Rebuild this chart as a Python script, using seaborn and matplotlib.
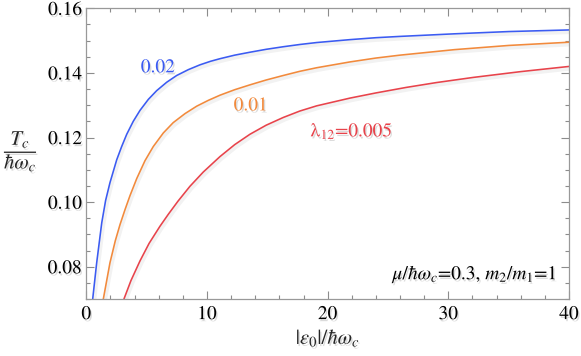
import numpy as np
import pandas as pd
import seaborn as sns
import matplotlib
matplotlib.use('Agg')
import matplotlib.pyplot as plt
from matplotlib import patheffects as pe
from matplotlib.ticker import MultipleLocator, FormatStrFormatter

# ---- data ----
lam_labels = ["0.02", "0.01", "0.005"]

eps_002 = [0.53, 0.86, 1.28, 1.6, 1.96, 2.52, 2.93, 3.35, 3.89, 4.45, 5.14, 5.83,
           6.66, 7.49, 8.45, 9.42, 10.3, 11.08, 12.3, 13.56, 14.9, 16.32, 17.7,
           19.09, 21.85, 24.0, 26.0, 30.5, 35.0, 40.0]
tc_002 = [0.0700, 0.0812, 0.0936, 0.1005, 0.1060, 0.1131, 0.1172, 0.1210, 0.1250,
          0.1284, 0.1318, 0.1345, 0.1371, 0.1392, 0.1410, 0.1425, 0.1436, 0.1444,
          0.1455, 0.1464, 0.1473, 0.1481, 0.1488, 0.1494, 0.1503, 0.1509, 0.1513,
          0.1521, 0.1528, 0.1533]

eps_001 = [1.41, 1.96, 2.4, 2.79, 3.21, 3.62, 4.18, 4.86, 5.55, 6.38, 7.2, 8.18,
           9.15, 10.11, 11.08, 12.3, 13.56, 14.9, 16.32, 17.7, 19.09, 21.85, 24.0,
           26.0, 30.5, 35.0, 40.0]
tc_001 = [0.0700, 0.0812, 0.0880, 0.0930, 0.0977, 0.1020, 0.1073, 0.1128, 0.1172,
          0.1214, 0.1246, 0.1274, 0.1297, 0.1315, 0.1331, 0.1348, 0.1363, 0.1378,
          0.1392, 0.1405, 0.1416, 0.1434, 0.1446, 0.1455, 0.1472, 0.1485, 0.1495]

eps_0005 = [3.12, 3.7, 4.45, 5.2, 6.1, 6.79, 7.6, 8.59, 9.69, 11.08, 12.3, 13.56,
            14.9, 16.32, 17.7, 19.09, 21.85, 24.0, 26.5, 29.0, 32.06, 36.0, 40.0]
tc_0005 = [0.0700, 0.0757, 0.0818, 0.0872, 0.0925, 0.0962, 0.1003, 0.1049, 0.1093,
           0.1141, 0.1178, 0.1210, 0.1238, 0.1262, 0.1282, 0.1298, 0.1322, 0.1338,
           0.1355, 0.1370, 0.1386, 0.1404, 0.1420]

colors = {"0.02": "#3b5bf2", "0.01": "#f28a3c", "0.005": "#e8434b"}

df = pd.concat([
    pd.DataFrame({"eps": eps_002, "Tc": tc_002, "lam": "0.02"}),
    pd.DataFrame({"eps": eps_001, "Tc": tc_001, "lam": "0.01"}),
    pd.DataFrame({"eps": eps_0005, "Tc": tc_0005, "lam": "0.005"}),
], ignore_index=True)

sns.set_theme(style="ticks")
plt.rcParams['font.family'] = ['STIXGeneral', 'DejaVu Serif']
plt.rcParams['mathtext.fontset'] = 'stix'

shadow_txt = [pe.withSimplePatchShadow(offset=(1.0, -1.5), shadow_rgbFace='0.45', alpha=0.25)]

fig = plt.figure(figsize=(5.81, 3.56), dpi=100)
ax = fig.add_axes([86.3 / 581, 1 - 299 / 356, (569 - 86.3) / 581, (299 - 8.3) / 356])

sns.lineplot(data=df, x="eps", y="Tc", hue="lam", hue_order=lam_labels,
             palette=colors, ax=ax, legend=False, linewidth=1.15,
             estimator=None, sort=True)
for ln in ax.lines:
    ln.set_solid_joinstyle('round')
    ln.set_path_effects([pe.SimpleLineShadow(offset=(1.0, -1.5), shadow_color='0.5',
                                             alpha=0.10, linewidth=3.0), pe.Normal()])

ax.set_xlim(0, 40)
ax.set_ylim(0.07, 0.16)
ax.set_xlabel("")
ax.set_ylabel("")

ax.xaxis.set_major_locator(MultipleLocator(10))
ax.xaxis.set_minor_locator(MultipleLocator(2))
ax.yaxis.set_major_locator(MultipleLocator(0.02))
ax.yaxis.set_minor_locator(MultipleLocator(0.005))
ax.xaxis.set_major_formatter(FormatStrFormatter('%d'))
ax.yaxis.set_major_formatter(FormatStrFormatter('%.2f'))

ax.tick_params(which='both', direction='in', top=True, right=True, color='0.55', width=0.8)
ax.tick_params(which='major', length=6, labelsize=14, labelcolor='black')
ax.tick_params(which='minor', length=3)
ax.tick_params(axis='y', pad=3)
ax.tick_params(axis='x', pad=5)
for s in ax.spines.values():
    s.set_color('0.6')
    s.set_linewidth(0.9)
for lab in ax.get_xticklabels() + ax.get_yticklabels():
    lab.set_path_effects(shadow_txt)

ax.text(5.94, 0.1416, "0.02", color=colors["0.02"], fontsize=14,
        ha='center', va='center', path_effects=shadow_txt)
ax.text(13.63, 0.1298, "0.01", color=colors["0.01"], fontsize=14,
        ha='center', va='center', path_effects=shadow_txt)
ax.text(22.0, 0.1221, "λ$_{12}$=0.005", color=colors["0.005"], fontsize=14,
        ha='center', va='center', path_effects=shadow_txt)
ax.text(39.1, 0.0778, r"$\mu/\hbar\omega_c$=0.3, $m_2/m_1$=1", color='black',
        fontsize=14, ha='right', va='center', path_effects=shadow_txt)

fig.text(21 / 581, 1 - 152 / 356, r"$\dfrac{T_c}{\hbar\omega_c}$", fontsize=15,
         ha='center', va='center', path_effects=shadow_txt)
fig.text(328 / 581, 1 - 338 / 356, r"$|\varepsilon_0|/\hbar\omega_c$", fontsize=15,
         ha='center', va='center', path_effects=shadow_txt)

fig.savefig("out.png", dpi=100)
